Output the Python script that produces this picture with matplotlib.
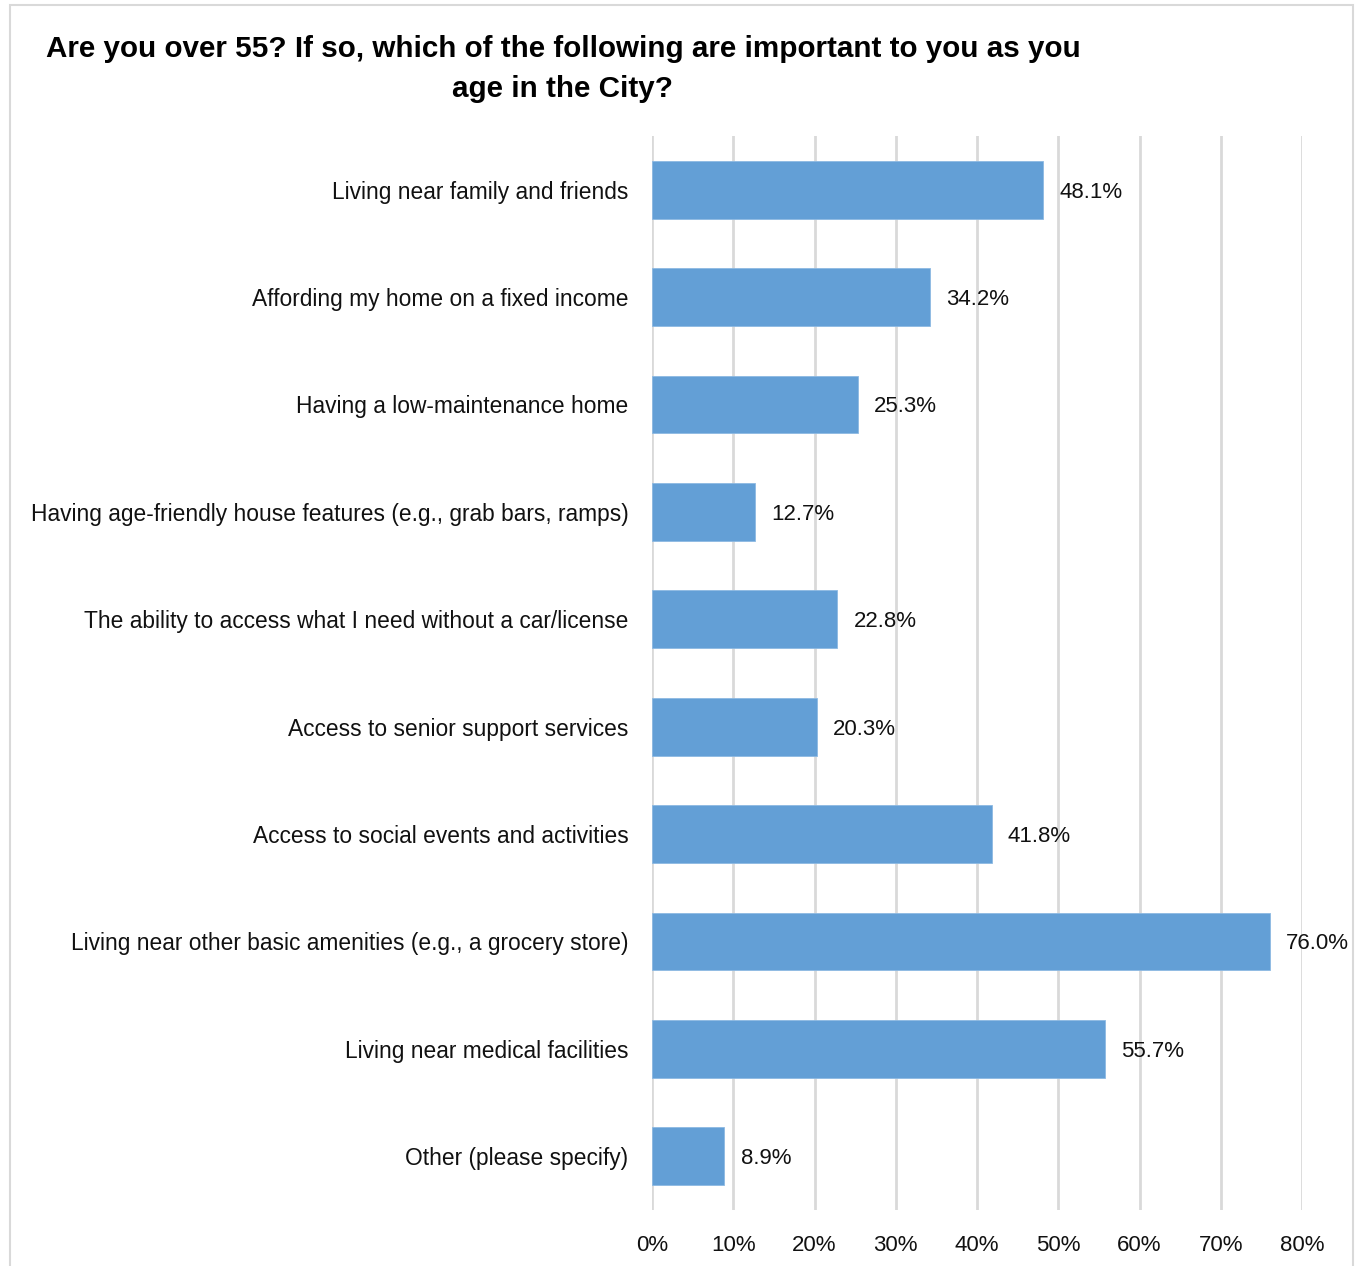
import matplotlib.pyplot as plt
from matplotlib.patches import Rectangle
from matplotlib.ticker import FuncFormatter

plt.rcParams['font.family'] = ['Liberation Sans', 'DejaVu Sans']

categories = [
    "Living near family and friends",
    "Affording my home on a fixed income",
    "Having a low-maintenance home",
    "Having age-friendly house features (e.g., grab bars, ramps)",
    "The ability to access what I need without a car/license",
    "Access to senior support services",
    "Access to social events and activities",
    "Living near other basic amenities (e.g., a grocery store)",
    "Living near medical facilities",
    "Other (please specify)",
]
values = [48.1, 34.2, 25.3, 12.7, 22.8, 20.3, 41.8, 76.0, 55.7, 8.9]
xticks = [0, 10, 20, 30, 40, 50, 60, 70, 80]

W, H = 1355, 1266
fig = plt.figure(figsize=(W / 100, H / 100), dpi=100)
fig.patches.append(Rectangle((10 / W, -0.01), 1343 / W, 1.0 - 5 / H + 0.01,
                             transform=fig.transFigure, fill=False,
                             edgecolor='#D9D9D9', linewidth=1.5))

ax = fig.add_axes([652 / W, 1 - 1210 / H, 650 / W, 1074 / H])
ypos = list(range(len(categories)))
ax.barh(ypos, values, height=0.54, color='#639FD6', edgecolor='#8DB9E2', linewidth=0.6, zorder=3)
for y, v in zip(ypos, values):
    ax.text(v + 2.0, y, f"{v:.1f}%", va='center_baseline', ha='left', fontsize=16, color='#111111')

ax.set_ylim(len(categories) - 0.5, -0.5)
ax.set_xlim(0, 80)
ax.set_yticks(ypos)
ax.set_yticklabels(categories, fontsize=16.4, color='#111111')
ax.set_xticks(xticks)
ax.xaxis.set_major_formatter(FuncFormatter(lambda v, p: f"{v:.0f}%"))
ax.tick_params(axis='x', labelsize=16, colors='#111111', length=0, pad=18)
ax.tick_params(axis='y', length=0, pad=17)
ax.grid(axis='x', color='#D9D9D9', linewidth=2, zorder=0)
for s in ax.spines.values():
    s.set_visible(False)

fig.text(563 / W, 1 - 69 / H,
         "Are you over 55? If so, which of the following are important to you as you\nage in the City?",
         ha='center', va='center', fontsize=21.3, fontweight='bold', linespacing=1.55)

fig.savefig('out.png', dpi=100)
